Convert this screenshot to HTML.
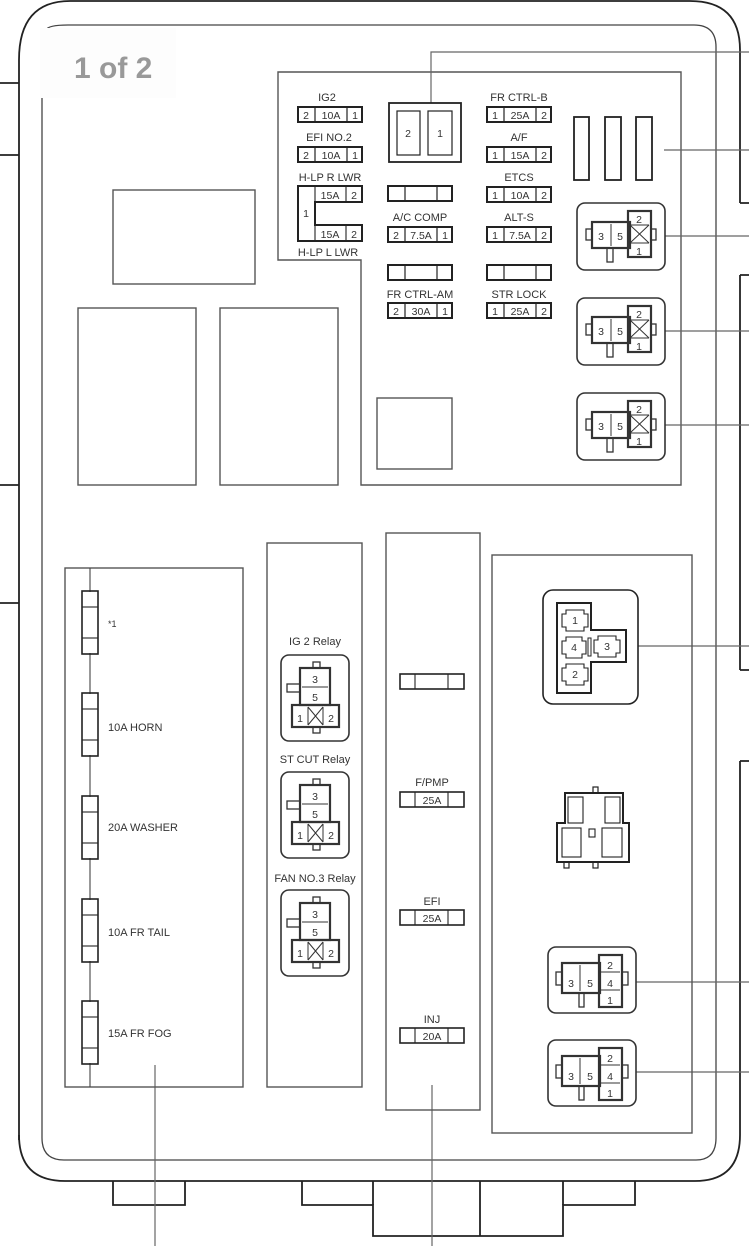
<!DOCTYPE html>
<html><head><meta charset="utf-8"><style>
html,body{margin:0;padding:0;background:#fff}
svg{display:block}
text{font-family:"Liberation Sans",sans-serif;fill:#333}
.l{font-size:11px;text-anchor:middle}
.s{font-size:10.5px;text-anchor:middle}
.t{font-size:11px}
</style></head><body>
<svg width="749" height="1246" viewBox="0 0 749 1246" xmlns="http://www.w3.org/2000/svg">
<defs>
<g id="rA" fill="none" stroke="#333">
<rect x="0" y="0" width="88" height="67" rx="8" stroke-width="1.6"/>
<rect x="9" y="26" width="6" height="11" stroke-width="1.3"/>
<rect x="15" y="19" width="38" height="26" stroke-width="2.2"/>
<line x1="34" y1="21" x2="34" y2="43" stroke-width="1"/>
<rect x="51" y="8" width="23" height="46" stroke-width="2.2"/>
<line x1="53" y1="22" x2="72" y2="22" stroke-width="1"/>
<line x1="53" y1="40" x2="72" y2="40" stroke-width="1"/>
<path d="M53 22 L72 40 M72 22 L53 40" stroke-width="1"/>
<rect x="74" y="26" width="5" height="11" stroke-width="1.3"/>
<rect x="30" y="45" width="6" height="14" stroke-width="1.3"/>
</g>
<g id="rB" fill="none" stroke="#333">
<rect x="0" y="0" width="68" height="86" rx="8" stroke-width="1.6"/>
<rect x="32" y="7" width="7" height="6" stroke-width="1.3"/>
<rect x="19" y="13" width="30" height="37" stroke-width="2.2"/>
<line x1="21" y1="32" x2="47" y2="32" stroke-width="1"/>
<rect x="11" y="50" width="47" height="22" stroke-width="2.2"/>
<line x1="27" y1="52" x2="27" y2="70" stroke-width="1"/>
<line x1="42" y1="52" x2="42" y2="70" stroke-width="1"/>
<path d="M27 52 L42 70 M42 52 L27 70" stroke-width="1"/>
<rect x="32" y="72" width="7" height="6" stroke-width="1.3"/>
<rect x="6" y="29" width="13" height="8" stroke-width="1.3"/>
</g>
<g id="rC" fill="none" stroke="#333">
<rect x="0" y="0" width="88" height="66" rx="8" stroke-width="1.6"/>
<rect x="8" y="25" width="6" height="13" stroke-width="1.3"/>
<rect x="14" y="16" width="38" height="30" stroke-width="2.2"/>
<line x1="32" y1="18" x2="32" y2="44" stroke-width="1"/>
<rect x="51" y="8" width="23" height="52" stroke-width="2.2"/>
<line x1="53" y1="25" x2="72" y2="25" stroke-width="1"/>
<line x1="53" y1="43" x2="72" y2="43" stroke-width="1"/>
<rect x="74" y="25" width="6" height="13" stroke-width="1.3"/>
<rect x="31" y="46" width="5" height="14" stroke-width="1.3"/>
</g>
<g id="f3" fill="none" stroke="#222" stroke-width="2">
<rect x="0" y="0" width="64" height="15"/>
<line x1="17" y1="0" x2="17" y2="15" stroke-width="1.2"/>
<line x1="49" y1="0" x2="49" y2="15" stroke-width="1.2"/>
</g>
<g id="f4" fill="none" stroke="#222" stroke-width="1.6">
<rect x="0" y="0" width="64" height="15"/>
<line x1="15" y1="0" x2="15" y2="15" stroke-width="1.1"/>
<line x1="48" y1="0" x2="48" y2="15" stroke-width="1.1"/>
</g>
<g id="fv" fill="none" stroke="#222" stroke-width="1.6">
<rect x="0" y="0" width="16" height="63"/>
<line x1="0" y1="16" x2="16" y2="16" stroke-width="1.1"/>
<line x1="0" y1="47" x2="16" y2="47" stroke-width="1.1"/>
</g>
</defs>

<!-- outer housing -->
<g fill="none" stroke="#222" stroke-width="1.8">
<path d="M19 1140 L19 60 Q19 1 70 1 L690 1 Q740 1 740 50 L740 203"/>
<path d="M740 275 L740 670"/>
<path d="M740 761 L740 1135 Q740 1181 695 1181 L65 1181 Q19 1181 19 1135"/>
<path d="M740 203 L749 203 M740 275 L749 275 M740 670 L749 670 M740 761 L749 761"/>
<path d="M0 83 L19 83 M0 155 L19 155 M0 485 L19 485 M0 603 L19 603"/>
<path d="M113 1181 L113 1205 L185 1205 L185 1181"/>
<path d="M302 1181 L302 1205 L373 1205 L373 1236 L563 1236 L563 1205 L635 1205 L635 1181"/>
<path d="M480 1181 L480 1236 M373 1181 L373 1205 M563 1181 L563 1205"/>
</g>
<g fill="none" stroke="#444" stroke-width="1.3">
<path d="M42 95 L42 1138 Q42 1160 64 1160 L696 1160 Q716 1160 716 1138 L716 47 Q716 25 694 25 L68 25 Q48 25 46 30"/>
</g>
<rect x="40" y="28" width="136" height="70" fill="#fdfdfd"/>
<text x="74" y="78" style="font-size:30px;font-weight:bold;fill:#999">1 of 2</text>

<!-- top-right block -->
<g fill="none" stroke="#555" stroke-width="1.4">
<path d="M278 260 L278 72 L681 72 L681 485 L361 485 L361 260 Z"/>
<rect x="113" y="190" width="142" height="94"/>
<rect x="78" y="308" width="118" height="177"/>
<rect x="220" y="308" width="118" height="177"/>
<rect x="377" y="398" width="75" height="71"/>
</g>
<!-- leaders -->
<g fill="none" stroke="#666" stroke-width="1.2">
<path d="M431 103 L431 52 L749 52"/>
<path d="M664 150 L749 150"/>
<path d="M665 236 L749 236 M665 331 L749 331 M665 425 L749 425"/>
<path d="M638 646 L749 646 M636 982 L749 982 M636 1072 L749 1072"/>
<path d="M155 1065 L155 1246 M432 1085 L432 1246"/>
</g>

<!-- relay 2/1 -->
<g fill="none" stroke="#222" stroke-width="1.8">
<rect x="389" y="103" width="72" height="59"/>
<rect x="397" y="111" width="23" height="44" stroke-width="1.2"/>
<rect x="428" y="111" width="24" height="44" stroke-width="1.2"/>
</g>
<text class="s" x="408" y="137">2</text><text class="s" x="440" y="137">1</text>

<!-- left fuses -->
<text class="l" x="327" y="101">IG2</text>
<use href="#f3" x="298" y="107"/>
<text class="s" x="306" y="119">2</text><text class="s" x="331" y="119">10A</text><text class="s" x="355" y="119">1</text>
<text class="l" x="329" y="141">EFI NO.2</text>
<use href="#f3" x="298" y="147"/>
<text class="s" x="306" y="159">2</text><text class="s" x="331" y="159">10A</text><text class="s" x="355" y="159">1</text>
<text class="l" x="330" y="181">H-LP R LWR</text>
<path d="M298 186 L362 186 L362 202 L315 202 L315 225 L362 225 L362 241 L298 241 Z" fill="none" stroke="#222" stroke-width="2"/>
<line x1="315" y1="186" x2="315" y2="202" stroke="#222" stroke-width="1.1"/>
<line x1="315" y1="225" x2="315" y2="241" stroke="#222" stroke-width="1.1"/>
<line x1="346" y1="186" x2="346" y2="202" stroke="#222" stroke-width="1.1"/>
<line x1="346" y1="225" x2="346" y2="241" stroke="#222" stroke-width="1.1"/>
<text class="s" x="306" y="217">1</text>
<text class="s" x="330" y="199">15A</text><text class="s" x="354" y="199">2</text>
<text class="s" x="330" y="238">15A</text><text class="s" x="354" y="238">2</text>
<text class="l" x="328" y="256">H-LP L LWR</text>

<!-- middle fuses -->
<use href="#f3" x="388" y="186"/>
<text class="l" x="420" y="221">A/C COMP</text>
<use href="#f3" x="388" y="227"/>
<text class="s" x="396" y="239">2</text><text class="s" x="421" y="239">7.5A</text><text class="s" x="445" y="239">1</text>
<use href="#f3" x="388" y="265"/>
<text class="l" x="420" y="298">FR CTRL-AM</text>
<use href="#f3" x="388" y="303"/>
<text class="s" x="396" y="315">2</text><text class="s" x="421" y="315">30A</text><text class="s" x="445" y="315">1</text>

<!-- right fuses -->
<text class="l" x="519" y="101">FR CTRL-B</text>
<use href="#f3" x="487" y="107"/>
<text class="s" x="495" y="119">1</text><text class="s" x="520" y="119">25A</text><text class="s" x="544" y="119">2</text>
<text class="l" x="519" y="141">A/F</text>
<use href="#f3" x="487" y="147"/>
<text class="s" x="495" y="159">1</text><text class="s" x="520" y="159">15A</text><text class="s" x="544" y="159">2</text>
<text class="l" x="519" y="181">ETCS</text>
<use href="#f3" x="487" y="187"/>
<text class="s" x="495" y="199">1</text><text class="s" x="520" y="199">10A</text><text class="s" x="544" y="199">2</text>
<text class="l" x="519" y="221">ALT-S</text>
<use href="#f3" x="487" y="227"/>
<text class="s" x="495" y="239">1</text><text class="s" x="520" y="239">7.5A</text><text class="s" x="544" y="239">2</text>
<use href="#f3" x="487" y="265"/>
<text class="l" x="519" y="298">STR LOCK</text>
<use href="#f3" x="487" y="303"/>
<text class="s" x="495" y="315">1</text><text class="s" x="520" y="315">25A</text><text class="s" x="544" y="315">2</text>

<g fill="none" stroke="#222" stroke-width="1.8">
<rect x="574" y="117" width="15" height="63"/>
<rect x="605" y="117" width="16" height="63"/>
<rect x="636" y="117" width="16" height="63"/>
</g>

<!-- right relays -->
<use href="#rA" x="577" y="203"/>
<text class="s" x="601" y="240">3</text><text class="s" x="620" y="240">5</text><text class="s" x="639" y="223">2</text><text class="s" x="639" y="255">1</text>
<use href="#rA" x="577" y="298"/>
<text class="s" x="601" y="335">3</text><text class="s" x="620" y="335">5</text><text class="s" x="639" y="318">2</text><text class="s" x="639" y="350">1</text>
<use href="#rA" x="577" y="393"/>
<text class="s" x="601" y="430">3</text><text class="s" x="620" y="430">5</text><text class="s" x="639" y="413">2</text><text class="s" x="639" y="445">1</text>

<!-- lower boxes -->
<g fill="none" stroke="#555" stroke-width="1.4">
<rect x="65" y="568" width="178" height="519"/>
<rect x="267" y="543" width="95" height="544"/>
<rect x="386" y="533" width="94" height="577"/>
<rect x="492" y="555" width="200" height="578"/>
</g>
<line x1="90" y1="568" x2="90" y2="1087" stroke="#444" stroke-width="1.1"/>
<rect x="83" y="592" width="14" height="61" fill="#fff"/><use href="#fv" x="82" y="591"/>
<rect x="83" y="694" width="14" height="61" fill="#fff"/><use href="#fv" x="82" y="693"/>
<rect x="83" y="797" width="14" height="61" fill="#fff"/><use href="#fv" x="82" y="796"/>
<rect x="83" y="900" width="14" height="61" fill="#fff"/><use href="#fv" x="82" y="899"/>
<rect x="83" y="1002" width="14" height="61" fill="#fff"/><use href="#fv" x="82" y="1001"/>
<text class="t" x="108" y="627" style="font-size:9px">*1</text>
<text class="t" x="108" y="731">10A HORN</text>
<text class="t" x="108" y="831">20A WASHER</text>
<text class="t" x="108" y="936">10A FR TAIL</text>
<text class="t" x="108" y="1037">15A FR FOG</text>

<!-- column relays -->
<text class="l" x="315" y="645">IG 2 Relay</text>
<use href="#rB" x="281" y="655"/>
<text class="s" x="315" y="683">3</text><text class="s" x="315" y="701">5</text><text class="s" x="300" y="722">1</text><text class="s" x="331" y="722">2</text>
<text class="l" x="315" y="763">ST CUT Relay</text>
<use href="#rB" x="281" y="772"/>
<text class="s" x="315" y="800">3</text><text class="s" x="315" y="818">5</text><text class="s" x="300" y="839">1</text><text class="s" x="331" y="839">2</text>
<text class="l" x="315" y="882">FAN NO.3 Relay</text>
<use href="#rB" x="281" y="890"/>
<text class="s" x="315" y="918">3</text><text class="s" x="315" y="936">5</text><text class="s" x="300" y="957">1</text><text class="s" x="331" y="957">2</text>

<!-- middle column fuses -->
<use href="#f4" x="400" y="674"/>
<text class="l" x="432" y="786">F/PMP</text>
<use href="#f4" x="400" y="792"/>
<text class="s" x="432" y="804">25A</text>
<text class="l" x="432" y="905">EFI</text>
<use href="#f4" x="400" y="910"/>
<text class="s" x="432" y="922">25A</text>
<text class="l" x="432" y="1023">INJ</text>
<use href="#f4" x="400" y="1028"/>
<text class="s" x="432" y="1040">20A</text>

<!-- big connector -->
<g fill="none" stroke="#222">
<rect x="543" y="590" width="95" height="114" rx="10" stroke-width="1.6"/>
<path d="M557 603 L591 603 L591 630 L626 630 L626 662 L591 662 L591 693 L557 693 Z" stroke-width="2"/>
<path d="M566 610 L584 610 L584 614 L588 614 L588 627 L584 627 L584 631 L566 631 L566 627 L562 627 L562 614 L566 614 Z" stroke-width="1.1"/>
<path d="M566 637 L582 637 L582 641 L586 641 L586 654 L582 654 L582 658 L566 658 L566 654 L562 654 L562 641 L566 641 Z" stroke-width="1.1"/>
<path d="M566 664 L584 664 L584 668 L588 668 L588 681 L584 681 L584 685 L566 685 L566 681 L562 681 L562 668 L566 668 Z" stroke-width="1.1"/>
<path d="M598 636 L616 636 L616 640 L620 640 L620 653 L616 653 L616 657 L598 657 L598 653 L594 653 L594 640 L598 640 Z" stroke-width="1.1"/>
<rect x="588" y="638" width="3" height="18" stroke-width="1"/>
</g>
<text class="s" x="575" y="624">1</text><text class="s" x="574" y="651">4</text><text class="s" x="575" y="678">2</text><text class="s" x="607" y="650">3</text>

<!-- middle connector -->
<g fill="none" stroke="#222">
<path d="M565 823 L565 793 L623 793 L623 823 L629 823 L629 862 L557 862 L557 823 Z" stroke-width="2"/>
<rect x="593" y="787" width="5" height="6" stroke-width="1.2"/>
<rect x="564" y="862" width="5" height="6" stroke-width="1.2"/>
<rect x="593" y="862" width="5" height="6" stroke-width="1.2"/>
<rect x="568" y="797" width="15" height="26" stroke-width="1.1"/>
<rect x="605" y="797" width="15" height="26" stroke-width="1.1"/>
<rect x="562" y="828" width="19" height="29" stroke-width="1.1"/>
<rect x="602" y="828" width="20" height="29" stroke-width="1.1"/>
<rect x="589" y="829" width="6" height="8" stroke-width="1.1"/>
</g>

<!-- 4-pin relays -->
<use href="#rC" x="548" y="947"/>
<text class="s" x="571" y="987">3</text><text class="s" x="590" y="987">5</text><text class="s" x="610" y="969">2</text><text class="s" x="610" y="987">4</text><text class="s" x="610" y="1004">1</text>
<use href="#rC" x="548" y="1040"/>
<text class="s" x="571" y="1080">3</text><text class="s" x="590" y="1080">5</text><text class="s" x="610" y="1062">2</text><text class="s" x="610" y="1080">4</text><text class="s" x="610" y="1097">1</text>
</svg>
</body></html>
